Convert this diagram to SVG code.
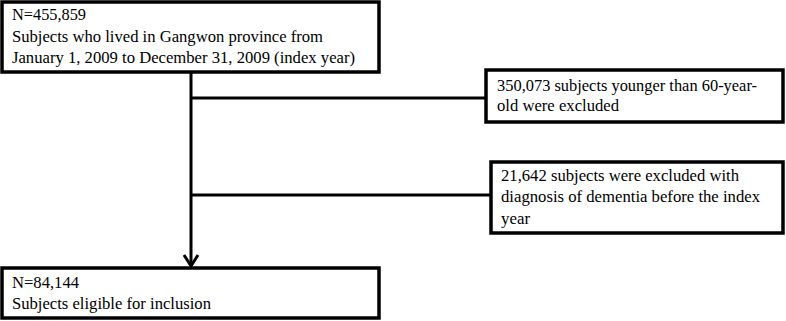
<svg xmlns="http://www.w3.org/2000/svg" width="786" height="321" viewBox="0 0 786 321">
<style>
.box{fill:#fff;stroke:#000;stroke-width:3.5}
.t{font-family:"Liberation Serif","Times New Roman",serif;font-size:17px;fill:#000}
.c{stroke:#000;stroke-width:3;fill:none}
</style>
<rect width="786" height="321" fill="#fff"/>
<g id="connectors">
<line class="c" x1="191" y1="72" x2="191" y2="266"/>
<polyline class="c" points="184,255 191,266 198,255"/>
<line class="c" x1="191" y1="98" x2="486" y2="98"/>
<line class="c" x1="191" y1="195" x2="491" y2="195"/>
</g>
<g id="n1">
<rect class="box" x="2" y="2" width="377" height="70"/>
<text class="t" x="12" y="20" textLength="74" lengthAdjust="spacingAndGlyphs">N=455,859</text>
<text class="t" x="12" y="42" textLength="311" lengthAdjust="spacingAndGlyphs">Subjects who lived in Gangwon province from</text>
<text class="t" x="12" y="63" textLength="343" lengthAdjust="spacingAndGlyphs">January 1, 2009 to December 31, 2009 (index year)</text>
</g>
<g id="n2">
<rect class="box" x="486" y="70" width="297" height="52"/>
<text class="t" x="497" y="91" textLength="260" lengthAdjust="spacingAndGlyphs">350,073 subjects younger than 60-year-</text>
<text class="t" x="497" y="111" textLength="122" lengthAdjust="spacingAndGlyphs">old were excluded</text>
</g>
<g id="n3">
<rect class="box" x="491" y="162" width="292" height="71"/>
<text class="t" x="501" y="181" textLength="238" lengthAdjust="spacingAndGlyphs">21,642 subjects were excluded with</text>
<text class="t" x="501" y="202" textLength="259" lengthAdjust="spacingAndGlyphs">diagnosis of dementia before the index</text>
<text class="t" x="501" y="224" textLength="29" lengthAdjust="spacingAndGlyphs">year</text>
</g>
<g id="n4">
<rect class="box" x="2" y="268" width="377" height="50"/>
<text class="t" x="12" y="288" textLength="67" lengthAdjust="spacingAndGlyphs">N=84,144</text>
<text class="t" x="12" y="309" textLength="199" lengthAdjust="spacingAndGlyphs">Subjects eligible for inclusion</text>
</g>
</svg>
